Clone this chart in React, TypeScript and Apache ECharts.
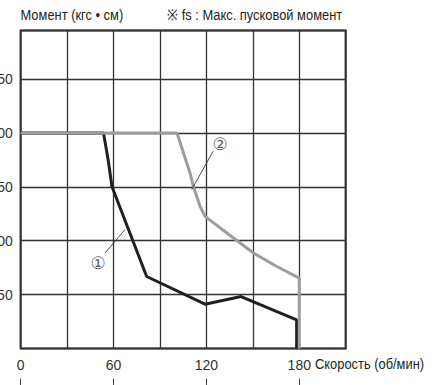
import React, { useEffect, useRef } from "react";
import * as echarts from "echarts";

// Axis values
const speedMax = 210;
const speedStep = 30;
const torqueMax = 295;
const torqueStep = 50;
const speedLabels = [0, 60, 120, 180];
const torqueLabels = [50, 100, 150, 200, 250];

// Curve ① (black)
const curve1Speed = [0, 53.5, 56.5, 59, 81.4, 119.1, 142.4, 178.3, 178.3];
const curve1Torque = [200, 200, 175, 150, 66.8, 41.1, 48.2, 26.5, 0];

// Curve ② (gray)
const curve2Speed = [0, 101, 105.1, 109.4, 111.5, 115.9, 119.1, 133.2, 150.4, 165.5, 180, 180];
const curve2Torque = [200, 200, 181.6, 163, 150.5, 131.9, 122.6, 107.2, 88.6, 76.1, 65.3, 0];

// Annotations
const note1 = [50.1, 79.3];
const leader1Speed = [54.5, 67.4];
const leader1Torque = [88.6, 110.3];
const note2 = [128.8, 189.3];
const leader2Speed = [124.4, 110.5];
const leader2Torque = [183.1, 147.5];

const zip = (xs: number[], ys: number[]) => xs.map((x, i) => [x, ys[i]]);

const narrow = "'Liberation Sans', Arial, sans-serif";
const regular = "'Liberation Sans', Arial, sans-serif";

export default function App() {
  const ref = useRef<HTMLDivElement>(null);
  useEffect(() => {
    if (!ref.current) return;
    const chart = echarts.init(ref.current, null, { renderer: "svg" });
    chart.setOption({
      animation: false,
      backgroundColor: "#ffffff",
      grid: {
        left: 20.7,
        top: 30.5,
        width: 325,
        height: 318,
        containLabel: false,
        outerBoundsMode: "none",
        show: true,
        borderColor: "#231f20",
        borderWidth: 2,
        backgroundColor: "transparent",
      },
      xAxis: [
        {
          type: "value",
          min: 0,
          max: speedMax,
          interval: speedStep,
          axisLine: { show: false },
          axisTick: { show: false },
          axisLabel: {
            customValues: speedLabels,
            margin: 9,
            fontSize: 14,
            color: "#333",
            fontFamily: regular,
          },
          splitLine: { show: true, lineStyle: { color: "#333", width: 1.3 } },
        },
        {
          type: "value",
          gridIndex: 0,
          position: "bottom",
          offset: 30,
          min: 0,
          max: speedMax,
          interval: speedStep,
          axisLine: { show: false },
          axisTick: {
            show: true,
            customValues: speedLabels,
            length: 8,
            lineStyle: { color: "#444", width: 1 },
          },
          axisLabel: { show: false },
          splitLine: { show: false },
        },
      ],
      yAxis: {
        type: "value",
        min: 0,
        max: torqueMax,
        interval: torqueStep,
        axisLine: { show: false },
        axisTick: { show: false },
        axisLabel: {
          customValues: torqueLabels,
          margin: 8,
          fontSize: 14,
          color: "#333",
          fontFamily: regular,
        },
        splitLine: { show: true, lineStyle: { color: "#333", width: 1.3 } },
      },
      series: [
        {
          type: "line",
          name: "①",
          data: zip(curve1Speed, curve1Torque),
          symbol: "none",
          lineStyle: { color: "#231f20", width: 3 },
          z: 3,
        },
        {
          type: "line",
          name: "②",
          data: zip(curve2Speed, curve2Torque),
          symbol: "none",
          lineStyle: { color: "#9d9d9d", width: 3 },
          z: 4,
        },
        {
          type: "line",
          data: zip(leader1Speed, leader1Torque),
          symbol: "none",
          lineStyle: { color: "#222", width: 0.8 },
          z: 5,
        },
        {
          type: "line",
          data: zip(leader2Speed, leader2Torque),
          symbol: "none",
          lineStyle: { color: "#222", width: 0.8 },
          z: 5,
        },
        {
          type: "scatter",
          data: [note1, note2],
          symbolSize: 0,
          z: 6,
          label: {
            show: true,
            position: "inside",
            formatter: (p: any) => (p.dataIndex === 0 ? "①" : "②"),
            fontSize: 17,
            color: "#333",
            fontFamily: "'DejaVu Sans', sans-serif",
          },
        },
      ],
      graphic: [
        {
          type: "text",
          x: 20.5,
          y: 15,
          scaleX: 0.86,
          style: {
            text: "Момент (кгс • см)",
            fontSize: 15,
            fill: "#231f20",
            fontFamily: narrow,
            verticalAlign: "middle",
            align: "left",
          },
        },
        {
          type: "text",
          x: 167,
          y: 15,
          scaleX: 0.86,
          style: {
            text: "※ fs : Макс. пусковой момент",
            fontSize: 15,
            fill: "#231f20",
            fontFamily: narrow,
            verticalAlign: "middle",
            align: "left",
          },
        },
        {
          type: "text",
          x: 315,
          y: 364,
          scaleX: 0.86,
          style: {
            text: "Скорость (об/мин)",
            fontSize: 15,
            fill: "#231f20",
            fontFamily: narrow,
            verticalAlign: "middle",
            align: "left",
          },
        },
      ],
    });
    return () => chart.dispose();
  }, []);
  return (
    <div
      ref={ref}
      style={{ position: "absolute", left: 0, top: 0, width: 442, height: 385 }}
    />
  );
}
